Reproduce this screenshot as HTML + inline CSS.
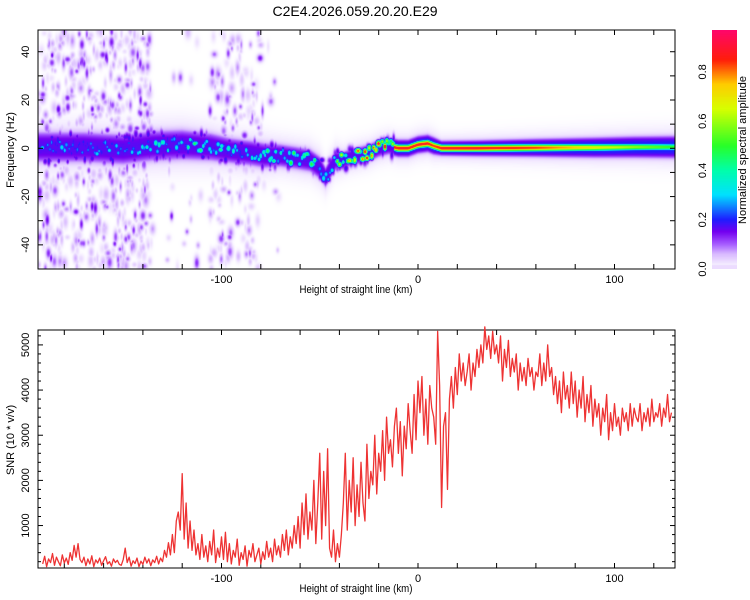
<!DOCTYPE html>
<html><head><meta charset="utf-8"><style>
html,body{margin:0;padding:0;background:#fff;}
#wrap{position:relative;width:750px;height:600px;overflow:hidden;font-family:"Liberation Sans",sans-serif;}
canvas{position:absolute;}
svg{position:absolute;left:0;top:0;}
text{font-family:"Liberation Sans",sans-serif;fill:#000;}
</style></head><body>
<div id="wrap">
<canvas id="spec" width="637" height="239" style="left:38px;top:30px"></canvas>
<canvas id="cbar" width="25" height="239" style="left:712px;top:30px"></canvas>
<svg id="svg" width="750" height="600"></svg>
</div>
<script>
// ---------- data ----------
const ridgeKm  = [-193,-170,-150,-135,-120,-105,-95,-85,-78,-70,-62,-55,-50,-47,-45,-42,-38,-35,-30,-25,-20,-15,-10,-5,0,5,8,12,30,60,90,110,131];
const ridgeHz  = [0.5,0.5,-0.5,1,1.5,0.5,-1,-2,-3,-3,-4,-5,-8,-12,-9,-5,-5,-4,-3,-2,0,1,0,0,1.5,2,1,0,0,0.2,0.3,0.5,0.5];
const ridgeAmp = [0.3,0.3,0.28,0.35,0.45,0.45,0.35,0.35,0.45,0.5,0.5,0.5,0.4,0.3,0.35,0.55,0.8,0.75,0.8,0.85,0.85,0.9,0.9,0.9,0.9,0.9,0.85,0.9,0.9,0.85,0.7,0.6,0.5];
const ridgeHalo= [6,6,6,6,6,5.5,5,5,5,4.5,4.5,4.5,4.5,4,4,4,3.5,3.5,3.5,3.5,3.5,3.5,3.5,3.5,3.5,3.5,3.5,3,3.2,3.6,4,4.2,4.4];
const noiseBands = [[-193,-135,1.0],[-128,-110,0.12],[-106,-80,0.6],[-80,-70,0.12]];
const snrStartKm = -191;
const snrValues = [
150,320,90,260,180,380,120,300,200,110,350,170,280,140,400,230,560,300,600,250,
180,300,110,260,150,330,90,240,170,280,120,220,310,150,200,100,260,180,230,140,
120,250,500,180,300,100,220,160,280,90,210,140,300,170,260,110,240,180,320,150,
280,200,450,300,620,350,800,400,1100,1300,900,2150,700,1500,500,1100,450,900,350,600,
250,800,300,550,200,650,350,900,180,500,300,750,250,850,200,600,150,450,300,700,
120,400,250,550,100,450,300,600,200,350,500,150,420,250,650,300,500,200,700,350,
550,300,800,450,900,350,750,500,1000,600,1200,500,1500,800,1700,700,1300,900,2000,600,
1500,2600,700,2200,1000,2700,500,300,900,200,600,300,800,1500,2600,900,2000,1300,2500,1000,
1900,1200,2400,1500,1100,2800,1600,2200,1900,3000,1700,2600,2200,3100,2000,3400,2600,2900,2300,3200,
3600,2600,3300,2100,3200,2700,3700,3100,2600,3900,2900,4200,3500,4300,3000,3800,2800,4100,3600,3400,
2800,5300,4100,1400,3200,3500,1800,3800,4300,3600,4500,3900,4800,4200,4600,4100,4400,4800,4000,4600,
4300,4900,4500,5000,4600,5400,4900,5200,4700,5300,4800,5000,4600,5200,4200,4900,4500,5100,4300,4700,
4400,4800,4000,4600,4200,4500,4100,4700,4300,4500,4000,4400,4300,4800,4100,4600,4200,5000,4300,4500,
3900,4300,3700,4200,3500,4400,3800,4100,3600,4400,3700,4200,3400,4000,3600,4300,3300,3900,3500,4100,
3200,3800,3400,3700,3000,3600,3300,3900,2900,3500,3100,3700,3200,3400,3000,3600,3300,3500,3100,3700,
3200,3600,3400,3300,3700,3100,3500,3300,3600,3200,3800,3300,3500,3400,3700,3200,3600,3400,3900,3300,3500];
const xTicks=[-180,-160,-140,-120,-100,-80,-60,-40,-20,0,20,40,60,80,100,120];
const xLabels=[-100,0,100];
const fTicks=[-40,-30,-20,-10,0,10,20,30,40];
const fLabels=[-40,-20,0,20,40];
const snrLabels=[1000,2000,3000,4000,5000];
const cbLabels=[0.0,0.2,0.4,0.6,0.8];

// ---------- scales ----------
const L=38,R=675,T1=30,B1=269,T2=330,B2=568;
const xs=k=>418+1.965*k;
const X0=(L-418)/1.965,X1=(R-418)/1.965;
const F0=-50,F1=49;
const fy=f=>B1-(f-F0)/(F1-F0)*(B1-T1);
const S0=60,S1=5330;
const sy=s=>B2-(s-S0)/(S1-S0)*(B2-T2);

// ---------- colormap ----------
const stops=[[0,[255,255,255]],[0.02,[242,232,255]],[0.06,[216,184,255]],[0.1,[165,90,255]],[0.15,[115,0,240]],[0.2,[30,30,255]],[0.3,[0,225,255]],[0.4,[0,255,170]],[0.5,[40,255,40]],[0.65,[215,255,0]],[0.75,[255,205,0]],[0.85,[255,30,10]],[1.0,[255,0,130]]];
function cmap(v){v=Math.max(0,Math.min(1,v));for(let i=1;i<stops.length;i++){if(v<=stops[i][0]){const a=stops[i-1],b=stops[i];const t=(v-a[0])/(b[0]-a[0]);return a[1].map((c,j)=>Math.round(c+(b[1][j]-c)*t));}}return stops[stops.length-1][1];}
function interp(arr,k){if(k<=ridgeKm[0])return arr[0];for(let i=1;i<ridgeKm.length;i++){if(k<=ridgeKm[i]){const t=(k-ridgeKm[i-1])/(ridgeKm[i]-ridgeKm[i-1]);return arr[i-1]+(arr[i]-arr[i-1])*t;}}return arr[arr.length-1];}

// deterministic texture generator (visual texture only)
let seed=12345;function rnd(){seed=(seed*1103515245+12345)%2147483648;return seed/2147483648;}

// ---------- spectrogram ----------
(function(){
 const c=document.getElementById('spec'),ctx=c.getContext('2d');
 const W=c.width,H=c.height,img=ctx.createImageData(W,H),buf=new Float32Array(W*H);
 const kmOf=px=>X0+(px+0.5)/W*(X1-X0), hzOf=py=>F1-(py+0.5)/H*(F1-F0);
 const blobs=[];
 noiseBands.forEach(b=>{const n=Math.round((b[1]-b[0])*11*b[2]);for(let i=0;i<n;i++){blobs.push([b[0]+rnd()*(b[1]-b[0]),F0+rnd()*(F1-F0),0.7+rnd()*1.0,1.0+rnd()*1.8,0.025+rnd()*rnd()*0.15]);}});
 for(let k=X0;k<-12;k+=1.1){const c0=interp(ridgeHz,k),a=interp(ridgeAmp,k),h=interp(ridgeHalo,k);
   blobs.push([k+rnd()*0.6,c0+(rnd()-0.5)*5,0.9+rnd()*0.6,1.0+rnd()*0.7,a*(0.5+rnd()*0.7)]);
   for(let j=0;j<2;j++)blobs.push([k+rnd()*1.1,c0+(rnd()-0.5)*2*h,0.8+rnd()*0.8,1.2+rnd()*1.5,0.1+rnd()*0.1]);}
 for(let px=0;px<W;px++){const k=kmOf(px);const c0=interp(ridgeHz,k),a=interp(ridgeAmp,k),h=interp(ridgeHalo,k);
  const coreW=k<-12?0:1;
  for(let py=0;py<H;py++){const f=hzOf(py);
   const core=coreW*a*Math.exp(-Math.pow((f-c0)/1.4,2));
   const halo=(k<-12?0.12:0.16)*Math.exp(-Math.pow((f-c0)/h,4))+0.045*Math.exp(-Math.pow((f-c0)/(h*1.6),2));
   buf[py*W+px]=Math.max(core,halo);}}
 blobs.forEach(b=>{const x0=Math.floor((b[0]-b[2]*2.5-X0)/(X1-X0)*W),x1=Math.ceil((b[0]+b[2]*2.5-X0)/(X1-X0)*W);
  for(let px=Math.max(0,x0);px<=Math.min(W-1,x1);px++){const k=kmOf(px);
   for(let py=0;py<H;py++){const f=hzOf(py);if(Math.abs(f-b[1])>b[3]*2.5)continue;
    const v=b[4]*Math.exp(-Math.pow((k-b[0])/b[2],2)-Math.pow((f-b[1])/b[3],2));const i=py*W+px;buf[i]=Math.max(buf[i],v);}}});
 for(let i=0;i<W*H;i++){const col=cmap(buf[i]);img.data[i*4]=col[0];img.data[i*4+1]=col[1];img.data[i*4+2]=col[2];img.data[i*4+3]=255;}
 ctx.putImageData(img,0,0);
 const cb=document.getElementById('cbar').getContext('2d');
 for(let py=0;py<239;py++){const v=0.97*(1-py/238);const col=cmap(v<0.015?0.03:v);cb.fillStyle=`rgb(${col})`;cb.fillRect(0,py,25,1);}
})();

// ---------- svg ----------
const svg=document.getElementById('svg');const NS='http://www.w3.org/2000/svg';
function mk(tag,attrs,parent){const e=document.createElementNS(NS,tag);for(const a in attrs)e.setAttribute(a,attrs[a]);(parent||svg).appendChild(e);return e;}
function txt(s,x,y,opts,name){const e=mk('text',Object.assign({x:x,y:y,'font-size':11,'text-anchor':'middle'},opts||{}));e.textContent=s;


return e;}

txt('C2E4.2026.059.20.20.E29',355,16,{'font-size':14},'chart-title');

function frame(T,B,name){const r=mk('rect',{x:L,y:T,width:R-L,height:B-T,fill:'none',stroke:'#000','stroke-width':1});


xTicks.forEach(k=>{const x=xs(k);mk('line',{x1:x,y1:B,x2:x,y2:B-5,stroke:'#000'});mk('line',{x1:x,y1:T,x2:x,y2:T+5,stroke:'#000'});});
xLabels.forEach(k=>{txt(String(k),xs(k),B+14,{},'x-tick-label');});
txt('Height of straight line (km)',356,B+24,{'font-size':11,transform:`translate(356,${B+24}) scale(0.88,1) translate(-356,${-(B+24)})`},'x-axis-title');}
frame(T1,B1,'spectrogram-frame');
frame(T2,B2,'snr-frame');

fTicks.forEach(f=>{const y=fy(f);mk('line',{x1:L,y1:y,x2:L+5,y2:y,stroke:'#000'});mk('line',{x1:R,y1:y,x2:R-5,y2:y,stroke:'#000'});});
fLabels.forEach(f=>{const y=fy(f);txt(String(f),29,y,{transform:`rotate(-90 29 ${y})`},'y-tick-label-frequency');});
txt('Frequency (Hz)',14,150,{transform:'rotate(-90 14 150)'},'y-axis-title-frequency');

for(let s=200;s<=5200;s+=200){const y=sy(s);const len=s%1000===0?5:3;mk('line',{x1:L,y1:y,x2:L+len,y2:y,stroke:'#000'});mk('line',{x1:R,y1:y,x2:R-len,y2:y,stroke:'#000'});}
snrLabels.forEach(s=>{const y=sy(s);txt(String(s),29,y,{transform:`rotate(-90 29 ${y})`},'y-tick-label-snr');});
txt('SNR (10 * v/v)',14,440,{transform:'rotate(-90 14 440)'},'y-axis-title-snr');

let d='';snrValues.forEach((v,i)=>{d+=(i?'L':'M')+xs(snrStartKm+i).toFixed(2)+','+sy(v).toFixed(2);});
const ln=mk('path',{d:d,fill:'none',stroke:'#ee3333','stroke-width':1.3,'stroke-linejoin':'round'});



const cbr=mk('rect',{x:712,y:30,width:25,height:239,fill:'none',stroke:'none'});


const cy=v=>269-v/0.97*239;
cbLabels.forEach(v=>{const y=cy(v);txt(v.toFixed(1),706,y,{transform:`rotate(-90 706 ${y})`},'colorbar-tick-label');});
txt('Normalized spectral amplitude',746,150,{transform:'rotate(-90 746 150)'},'colorbar-title');
</script>
</body></html>
